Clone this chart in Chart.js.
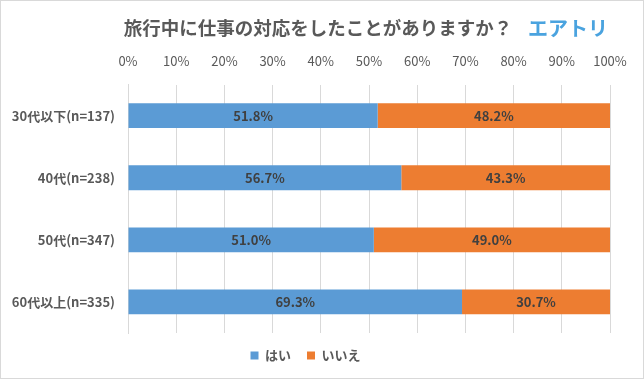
<!DOCTYPE html>
<html>
<head>
<meta charset="utf-8">
<script src="https://cdn.jsdelivr.net/npm/chart.js@4"></script>
<style>
  body { margin: 0; background: #fff; }
  .wrap { width: 642px; height: 377px; border: 1px solid #d9d9d9; position: relative; }
</style>
</head>
<body>
<div class="wrap"><canvas id="chart" width="642" height="377"></canvas></div>
<script>
const categories = ['30代以下(n=137)', '40代(n=238)', '50代(n=347)', '60代以上(n=335)']
const yesValues = [51.8, 56.7, 51.0, 69.3]
const noValues = [48.2, 43.3, 49.0, 30.7]
const seriesNames = ['はい', 'いいえ']
const titleText = '旅行中に仕事の対応をしたことがありますか？'
const logoText = 'エアトリ'

const fontFamily = '"Noto Sans CJK JP", "Noto Sans", sans-serif'

// percentages in the middle of each bar segment, plus title and logo
const labelPlugin = {
    id: 'barLabels',
    afterDatasetsDraw(chart) {
        const ctx = chart.ctx
        ctx.save()
        ctx.font = 'bold 13px ' + fontFamily
        ctx.fillStyle = '#404040'
        ctx.textAlign = 'center'
        ctx.textBaseline = 'middle'
        chart.data.datasets.forEach((ds, i) => {
            chart.getDatasetMeta(i).data.forEach((bar, j) => {
                const x = (bar.x + bar.base) / 2
                ctx.fillText(ds.data[j].toFixed(1) + '%', x, bar.y)
            })
        })
        ctx.font = 'bold 18.5px ' + fontFamily
        ctx.fillStyle = '#595959'
        ctx.fillText(titleText, 317, 27)
        ctx.font = 'bold 20px ' + fontFamily
        ctx.fillStyle = '#4aa3df'
        ctx.textAlign = 'left'
        ctx.fillText(logoText, 527, 27)
        ctx.restore()
    }
}

const ctx = document.getElementById('chart').getContext('2d')
new Chart(ctx, {
    type: 'bar',
    data: {
        labels: categories,
        datasets: [
            { label: seriesNames[0], data: yesValues, backgroundColor: '#5b9bd5', barPercentage: 0.4, categoryPercentage: 1 },
            { label: seriesNames[1], data: noValues, backgroundColor: '#ed7d31', barPercentage: 0.4, categoryPercentage: 1 }
        ]
    },
    options: {
        indexAxis: 'y',
        responsive: false,
        animation: false,
        layout: { padding: { left: 0, right: 33, top: 36, bottom: 6 } },
        scales: {
            x: {
                position: 'top',
                stacked: true,
                min: 0,
                max: 100,
                ticks: {
                    stepSize: 10,
                    padding: 16,
                    color: '#595959',
                    font: { family: fontFamily, size: 13 },
                    callback: v => v + '%'
                },
                grid: { color: '#d9d9d9', drawTicks: false },
                border: { display: false }
            },
            y: {
                stacked: true,
                afterFit: axis => { axis.width = 127 },
                ticks: {
                    padding: 5,
                    color: '#595959',
                    font: { family: fontFamily, size: 13, weight: 'bold' }
                },
                grid: { display: false },
                border: { color: '#d9d9d9' }
            }
        },
        plugins: {
            legend: {
                position: 'bottom',
                labels: {
                    boxWidth: 8,
                    boxHeight: 8,
                    padding: 16,
                    color: '#595959',
                    font: { family: fontFamily, size: 13, weight: 'bold' }
                }
            },
            tooltip: { enabled: false }
        }
    },
    plugins: [labelPlugin]
})
</script>
</body>
</html>
